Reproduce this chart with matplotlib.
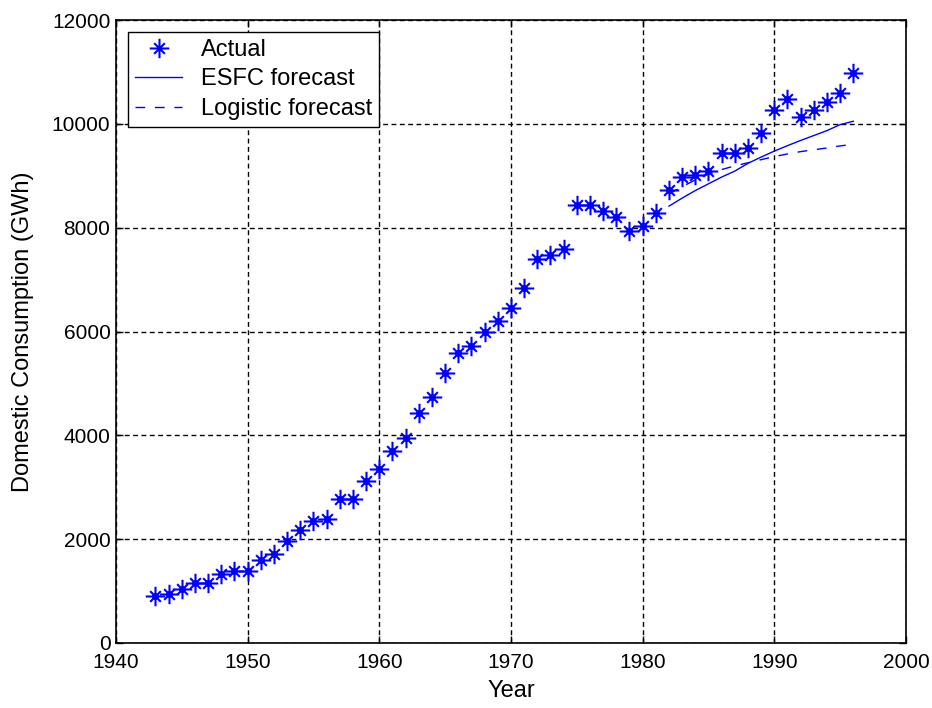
import numpy as np
import matplotlib.pyplot as plt
from matplotlib.path import Path

plt.rcParams['font.family'] = ['Liberation Sans', 'DejaVu Sans']

# Actual domestic consumption, 1943-1996 (GWh)
years = np.arange(1943, 1997)
actual = [900, 940, 1040, 1150, 1150, 1330, 1395, 1395, 1600, 1720,
          1960, 2170, 2350, 2380, 2765, 2765, 3120, 3360, 3700, 3950,
          4430, 4735, 5195, 5580, 5720, 5995, 6205, 6445, 6845, 7405,
          7465, 7580, 8440, 8440, 8330, 8210, 7930, 8030, 8280, 8730,
          8985, 9005, 9085, 9435, 9435, 9540, 9820, 10270, 10480, 10140,
          10270, 10415, 10590, 10975]

# forecasts, 1982-1996
fc_years = np.arange(1982, 1997)
esfc = [8415, 8570, 8715, 8845, 8975, 9090, 9240, 9360, 9475, 9580,
        9680, 9775, 9870, 9985, 10050]
logistic = [8650, 8790, 8920, 9030, 9120, 9190, 9250, 9310, 9370, 9420,
            9465, 9500, 9535, 9575, 9605]

# asterisk marker: long plus arms, shorter diagonals
star = Path([(-1, 0), (1, 0), (0, -1), (0, 1),
             (-0.55, -0.55), (0.55, 0.55), (-0.55, 0.55), (0.55, -0.55)],
            [Path.MOVETO, Path.LINETO] * 4)

fig = plt.figure(figsize=(9.32, 7.08), dpi=100)
ax = fig.add_axes([116 / 932, 1 - 643 / 708, 790 / 932, 623 / 708])

ax.plot(years, actual, linestyle='none', marker=star, markersize=14,
        markeredgewidth=1.5, color='blue', label='Actual')
ax.plot(years, actual, linestyle='none', marker='o', markersize=4,
        color='blue')
ax.plot(fc_years, esfc, '-', color='blue', linewidth=1, label='ESFC forecast')
ax.plot(fc_years, logistic, '--', color='blue', linewidth=1,
        dashes=(7, 7), label='Logistic forecast')

ax.set_xlim(1940, 2000)
ax.set_ylim(0, 12000)
ax.set_xticks(np.arange(1940, 2001, 10))
ax.set_yticks(np.arange(0, 12001, 2000))
ax.grid(True, color='black', linestyle=(0, (3.5, 2.5)), linewidth=1)
ax.tick_params(direction='in', top=True, right=True, labelsize=15,
               length=5, width=1, pad=4)
ax.tick_params(axis='x', pad=7)
for s in ax.spines.values():
    s.set_linewidth(1.2)
ax.set_xlabel('Year', fontsize=17, labelpad=6)
ax.set_ylabel('Domestic Consumption (GWh)', fontsize=17, labelpad=13)

leg = ax.legend(loc='upper left', fontsize=17, fancybox=False,
                edgecolor='black', framealpha=1, borderaxespad=0.5,
                handlelength=2.0, handletextpad=0.8, labelspacing=0.32,
                borderpad=0.3)
leg.get_frame().set_linewidth(1)

fig.savefig('out.png', dpi=100)
